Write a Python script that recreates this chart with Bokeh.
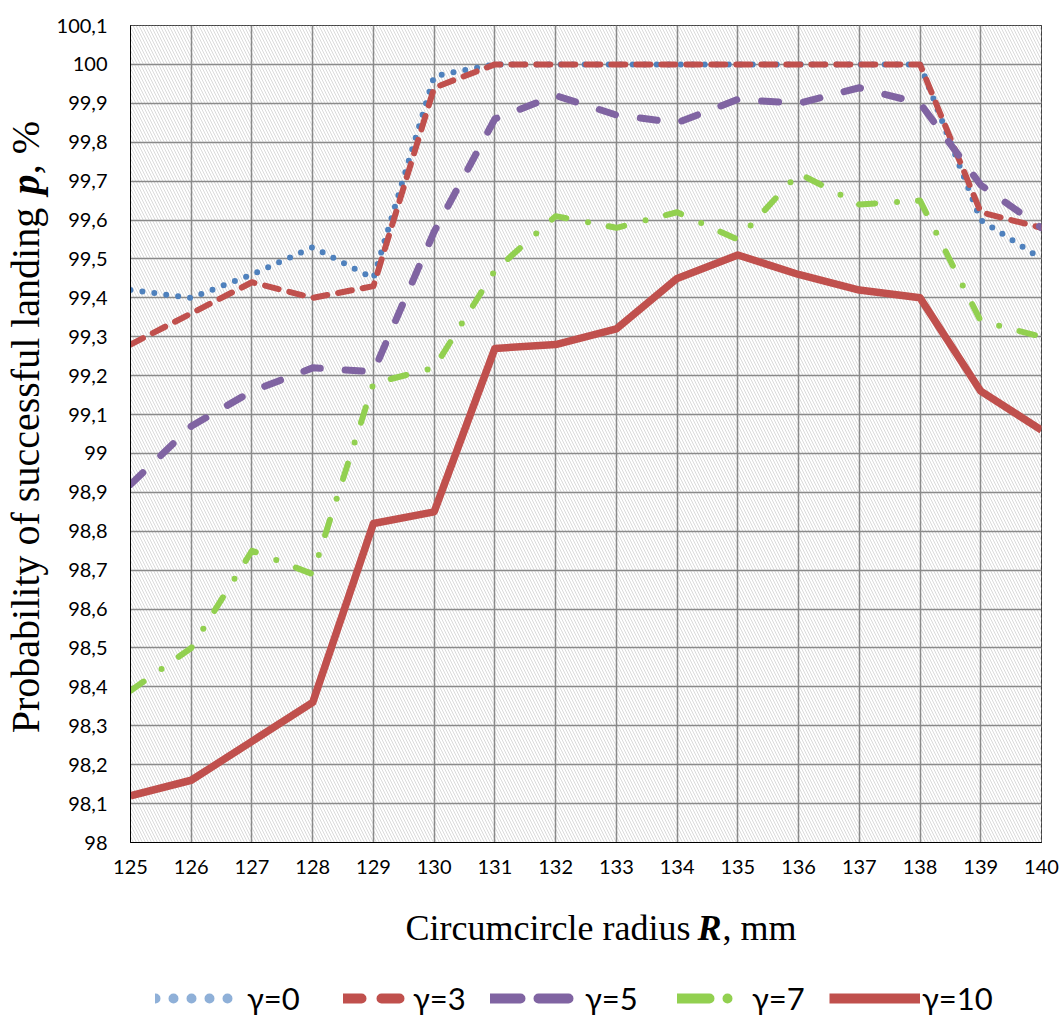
import math
from bokeh.plotting import figure
from bokeh.layouts import column, row
from bokeh.models import (Range1d, FixedTicker, CustomJSTickFormatter, BoxAnnotation,
                          Label, Legend, LegendItem, ColumnDataSource)
from bokeh.embed import file_html
from bokeh.resources import INLINE

# ---------------- data ----------------
radius = [125, 126, 127, 128, 129, 130, 131, 132, 133, 134, 135, 136, 137, 138, 139, 140]
g0  = [99.42, 99.40, 99.46, 99.53, 99.45, 99.97, 100.0, 100.0, 100.0, 100.0, 100.0, 100.0, 100.0, 100.0, 99.60, 99.50]
g3  = [99.28, 99.36, 99.44, 99.40, 99.43, 99.94, 100.0, 100.0, 100.0, 100.0, 100.0, 100.0, 100.0, 100.0, 99.62, 99.58]
g5  = [98.92, 99.07, 99.16, 99.22, 99.21, 99.57, 99.86, 99.92, 99.87, 99.85, 99.91, 99.90, 99.94, 99.90, 99.69, 99.58]
g7  = [98.39, 98.50, 98.75, 98.69, 99.18, 99.22, 99.47, 99.61, 99.58, 99.62, 99.55, 99.72, 99.64, 99.65, 99.34, 99.30]
g10 = [98.12, 98.16, 98.26, 98.36, 98.82, 98.85, 99.27, 99.28, 99.32, 99.45, 99.51, 99.46, 99.42, 99.40, 99.16, 99.06]
series_names = ["γ=0", "γ=3", "γ=5", "γ=7", "γ=10"]
x_ticks = list(range(125, 141))
y_ticks = [98.0, 98.1, 98.2, 98.3, 98.4, 98.5, 98.6, 98.7, 98.8, 98.9, 99.0,
           99.1, 99.2, 99.3, 99.4, 99.5, 99.6, 99.7, 99.8, 99.9, 100.0, 100.1]
x_title = ["Circumcircle radius ", "R", ", mm"]
y_title = ["Probability of successful landing", "p", ", %"]

# ---------------- styles ----------------
colors = ["#4F81BD", "#C0504D", "#8064A2", "#92D050", "#C0504D"]
widths = [6, 6, 7, 6, 7.5]
dashes = ["0 12", "14 11", "17 25", "16 22 0 21", "solid"]
leg_colors = ["#8FB0D8", "#C0504D", "#8064A2", "#92D050", "#C0504D"]
leg_dashes = ["0 18", "18 20", "30 18", "32 18 0 30", "solid"]

W, H = 1059, 1017
YW = 52                 # width of the y-title strip
MH = 890                # height of the main plot
XH = H - MH             # height of the bottom strip (x title + legend)
FT, FB = 25, 842        # frame top / bottom in page pixels

# ---------------- main plot ----------------
p = figure(width=W - YW, height=MH, output_backend="svg", toolbar_location=None, title=None,
           x_range=Range1d(125, 140), y_range=Range1d(98.0, 100.1),
           min_border_left=130 - YW, min_border_right=18, min_border_top=FT,
           min_border_bottom=MH - FB)
p.background_fill_color = "white"
p.border_fill_color = "white"
p.outline_line_color = "black"
p.outline_line_width = 1

p.add_layout(BoxAnnotation(fill_color="white", fill_alpha=1.0, hatch_pattern="\\",
                           hatch_color="#dadada", hatch_scale=6, hatch_weight=1,
                           line_color=None, level="image"))

p.xaxis.ticker = FixedTicker(ticks=x_ticks)
p.yaxis.ticker = FixedTicker(ticks=y_ticks)
p.yaxis.formatter = CustomJSTickFormatter(code="""
    const s = (Math.round(tick * 10) / 10).toString();
    return s.replace('.', ',');
""")
for ax in (p.xaxis, p.yaxis):
    ax.major_tick_out = 0
    ax.major_tick_in = 0
    ax.minor_tick_out = 0
    ax.minor_tick_in = 0
    ax.axis_line_color = "black"
    ax.axis_line_width = 1
    ax.major_label_text_font = "Lato"
    ax.major_label_text_font_size = "20px"
    ax.major_label_text_color = "black"
p.xaxis.major_label_standoff = 17
p.yaxis.major_label_standoff = 23

p.xgrid.ticker = FixedTicker(ticks=x_ticks)
p.ygrid.ticker = FixedTicker(ticks=y_ticks)
for g in (p.xgrid, p.ygrid):
    g.grid_line_color = "#8a8a8a"
    g.grid_line_width = 1.5

src = ColumnDataSource(dict(x=radius, g0=g0, g3=g3, g5=g5, g7=g7, g10=g10))
for col, c, w, d in zip(["g0", "g3", "g5", "g7", "g10"], colors, widths, dashes):
    p.line("x", col, source=src, line_color=c, line_width=w, line_dash=d,
           line_cap="round" if d != "solid" else "butt", line_join="round")

# ---------------- y title strip (frame aligned with main frame) ----------------
yf = figure(width=YW, height=MH, output_backend="svg", toolbar_location=None, title=None,
            x_range=Range1d(0, YW), y_range=Range1d(FB, FT), min_border=0,
            x_axis_location=None, y_axis_location=None)
yf.grid.visible = False
yf.outline_line_color = None
yf.background_fill_color = "white"
yf.border_fill_color = "white"
serif = "Liberation Serif"
for txt, py, style in zip(y_title, [470, 184, 147], ["normal", "bold italic", "normal"]):
    yf.add_layout(Label(x=25, y=py, text=txt, text_font=serif, text_font_size="40px",
                        text_font_style=style, text_align="center", text_baseline="middle",
                        angle=math.pi / 2, text_color="black"))

# ---------------- bottom strip: x title + legend ----------------
xf = figure(width=W, height=XH, output_backend="svg", toolbar_location=None, title=None,
            x_range=Range1d(0, W), y_range=Range1d(H, MH), min_border=0,
            x_axis_location=None, y_axis_location=None)
xf.grid.visible = False
xf.outline_line_color = None
xf.background_fill_color = "white"
xf.border_fill_color = "white"
for txt, px, style in zip(x_title, [405, 697, 722], ["normal", "bold italic", "normal"]):
    xf.add_layout(Label(x=px, y=927, text=txt, text_font=serif, text_font_size="36px",
                        text_font_style=style, text_align="left", text_baseline="alphabetic",
                        text_color="black"))

leg_x = [155, 343, 490, 677, 829]
leg_w = [85, 65, 87, 61, 91]
leg_gap = [7, 5, 8, 14, 2]
nan = float("nan")
for name, c, d, lx, lw, lg in zip(series_names, leg_colors, leg_dashes, leg_x, leg_w, leg_gap):
    rr = xf.line(x=[nan, nan], y=[nan, nan], line_color=c, line_width=10, line_dash=d,
                 line_cap="round" if d != "solid" else "butt")
    xf.add_layout(Legend(items=[LegendItem(label=name, renderers=[rr])],
                         location=(lx, 0), glyph_width=lw, glyph_height=20,
                         label_standoff=lg, label_height=20, padding=0, margin=0,
                         border_line_color=None, background_fill_alpha=0,
                         label_text_font="Lato", label_text_font_size="31px",
                         label_text_color="black", label_text_baseline="middle"))

layout = column(row(yf, p), xf)
open("out.html", "w").write(file_html(layout, INLINE))
